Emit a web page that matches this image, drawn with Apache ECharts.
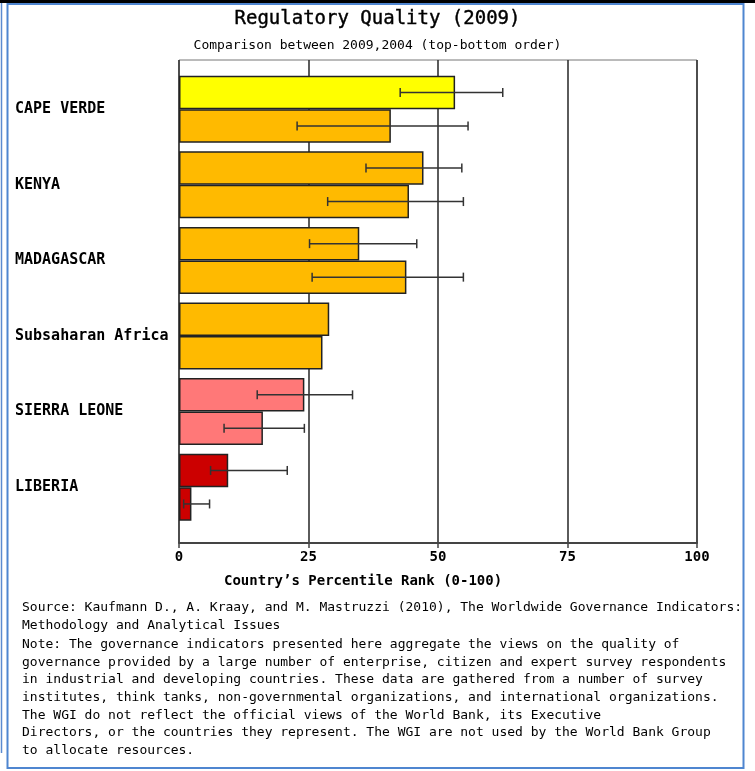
<!DOCTYPE html>
<html>
<head>
<meta charset="utf-8">
<script src="https://cdn.jsdelivr.net/npm/echarts@6/dist/echarts.min.js"></script>
<style>
  html, body { margin: 0; padding: 0; background: #fff; }
  #chart { width: 755px; height: 771px; }
</style>
</head>
<body>
<div id="chart"></div>
<script>
// Regulatory Quality percentile ranks, 2009 (upper bar) vs 2004 (lower bar)
const countries = ['CAPE VERDE', 'KENYA', 'MADAGASCAR', 'Subsaharan Africa', 'SIERRA LEONE', 'LIBERIA'];
const rank2009 = [53.3, 47.2, 34.8, 29.0, 24.2, 9.5];
const rank2004 = [40.9, 44.4, 43.9, 27.7, 16.2, 2.4];
// 90% confidence ranges (none for the regional aggregate)
const low2009  = [42.7, 36.1, 25.2, null, 15.1, 6.1];
const high2009 = [62.5, 54.6, 45.9, null, 33.5, 20.9];
const low2004  = [22.8, 28.7, 25.7, null, 8.7, 0.9];
const high2004 = [55.8, 54.9, 54.9, null, 24.2, 5.9];
const xTicks = [0, 25, 50, 75, 100];

const fill2009 = ['#ffff00', '#ffba00', '#ffba00', '#ffba00', '#ff7878', '#cc0000'];
const fill2004 = ['#ffba00', '#ffba00', '#ffba00', '#ffba00', '#ff7878', '#cc0000'];

const MONO = '"DejaVu Sans Mono", "Liberation Mono", monospace';
const BAR_W = 33.5;

const chart = echarts.init(document.getElementById('chart'), null, { renderer: 'canvas' });

function bars(values, fills) {
  return values.map((v, i) => ({
    value: v,
    itemStyle: { color: fills[i] }
  }));
}

function ranges(lows, highs, slot) {
  const out = [];
  lows.forEach((lo, i) => {
    if (lo != null) out.push([i, lo, highs[i], slot]);
  });
  return out;
}

function renderRange(params, api) {
  const cat = api.value(0);
  const slot = api.value(3);
  const yc = api.coord([0, cat])[1] + (slot === 0 ? -BAR_W / 2 : BAR_W / 2);
  const x1 = api.coord([api.value(1), cat])[0];
  const x2 = api.coord([api.value(2), cat])[0];
  const cap = 4.5;
  const style = { stroke: '#333', lineWidth: 1.5 };
  return {
    type: 'group',
    children: [
      { type: 'line', shape: { x1: x1, y1: yc, x2: x2, y2: yc }, style: style },
      { type: 'line', shape: { x1: x1, y1: yc - cap, x2: x1, y2: yc + cap }, style: style },
      { type: 'line', shape: { x1: x2, y1: yc - cap, x2: x2, y2: yc + cap }, style: style }
    ]
  };
}

const sourceLines = [
  'Source: Kaufmann D., A. Kraay, and M. Mastruzzi (2010), The Worldwide Governance Indicators:',
  'Methodology and Analytical Issues'
];
const noteLines = [
  'Note: The governance indicators presented here aggregate the views on the quality of',
  'governance provided by a large number of enterprise, citizen and expert survey respondents',
  'in industrial and developing countries. These data are gathered from a number of survey',
  'institutes, think tanks, non-governmental organizations, and international organizations.',
  'The WGI do not reflect the official views of the World Bank, its Executive',
  'Directors, or the countries they represent. The WGI are not used by the World Bank Group',
  'to allocate resources.'
];

const option = {
  backgroundColor: '#ffffff',
  animation: false,
  title: {
    text: 'Regulatory Quality (2009)',
    subtext: 'Comparison between 2009,2004 (top-bottom order)',
    left: 'center',
    top: 5,
    itemGap: 10,
    textStyle: { fontFamily: MONO, fontSize: 19, fontWeight: 'normal', color: '#000', textBorderColor: '#000', textBorderWidth: 0.4 },
    subtextStyle: { fontFamily: MONO, fontSize: 13, color: '#000' }
  },
  grid: [
    { left: 179, width: 518, top: 60, height: 483, show: true, borderColor: '#777', borderWidth: 1, backgroundColor: 'transparent' },
    { left: 179, width: 518, top: 71.4, height: 453.6 }
  ],
  xAxis: [
    {
      gridIndex: 0, type: 'value', min: xTicks[0], max: xTicks[xTicks.length - 1], interval: 25,
      axisLine: { show: true, onZero: false, lineStyle: { color: '#444', width: 2 } },
      axisTick: { show: true, length: 5, lineStyle: { color: '#444', width: 1.5 } },
      axisLabel: { fontFamily: MONO, fontSize: 14, fontWeight: 'bold', color: '#000', margin: 7 },
      splitLine: { show: true, lineStyle: { color: '#333', width: 1.6 } }
    },
    { gridIndex: 1, type: 'value', min: 0, max: 100, show: false }
  ],
  yAxis: [
    { gridIndex: 0, type: 'value', min: 0, max: 1, show: false },
    {
      gridIndex: 1, type: 'category', data: countries, inverse: true,
      axisLine: { show: false }, axisTick: { show: false }, splitLine: { show: false },
      axisLabel: {
        fontFamily: MONO, fontSize: 15, fontWeight: 'bold', color: '#000',
        align: 'left', margin: 164, verticalAlign: 'middle', padding: [0, 0, 9, 0]
      }
    }
  ],
  series: [
    {
      name: '2009', type: 'bar', xAxisIndex: 1, yAxisIndex: 1,
      barWidth: BAR_W, barGap: '0%',
      itemStyle: { borderColor: '#222', borderWidth: 1.5 },
      data: bars(rank2009, fill2009), z: 2
    },
    {
      name: '2004', type: 'bar', xAxisIndex: 1, yAxisIndex: 1,
      barWidth: BAR_W, barGap: '0%',
      itemStyle: { borderColor: '#222', borderWidth: 1.5 },
      data: bars(rank2004, fill2004), z: 2
    },
    {
      name: 'range2009', type: 'custom', xAxisIndex: 1, yAxisIndex: 1,
      renderItem: renderRange, encode: { x: [1, 2], y: 0 },
      data: ranges(low2009, high2009, 0), z: 5
    },
    {
      name: 'range2004', type: 'custom', xAxisIndex: 1, yAxisIndex: 1,
      renderItem: renderRange, encode: { x: [1, 2], y: 0 },
      data: ranges(low2004, high2004, 1), z: 5
    }
  ],
  graphic: [
    // page frame
    { type: 'rect', shape: { x: 0, y: 0, width: 755, height: 3 }, style: { fill: '#000' } },
    { type: 'line', shape: { x1: 1.5, y1: 3, x2: 1.5, y2: 753 }, style: { stroke: '#5b8bd0', lineWidth: 1.5 } },
    { type: 'rect', shape: { x: 7.5, y: 4, width: 736, height: 764 }, style: { fill: 'none', stroke: '#4f86d0', lineWidth: 2 } },
    // x axis title
    {
      type: 'text', left: 224, top: 574,
      style: { text: "Country\u2019s Percentile Rank (0-100)", font: 'bold 14px ' + MONO, fill: '#000' }
    },
    {
      type: 'text', left: 22, top: 599,
      style: { text: sourceLines.join('\n'), font: '13px ' + MONO, fill: '#000', lineHeight: 17.6 }
    },
    {
      type: 'text', left: 22, top: 636,
      style: { text: noteLines.join('\n'), font: '13px ' + MONO, fill: '#000', lineHeight: 17.6 }
    }
  ]
};

chart.setOption(option);
</script>
</body>
</html>
